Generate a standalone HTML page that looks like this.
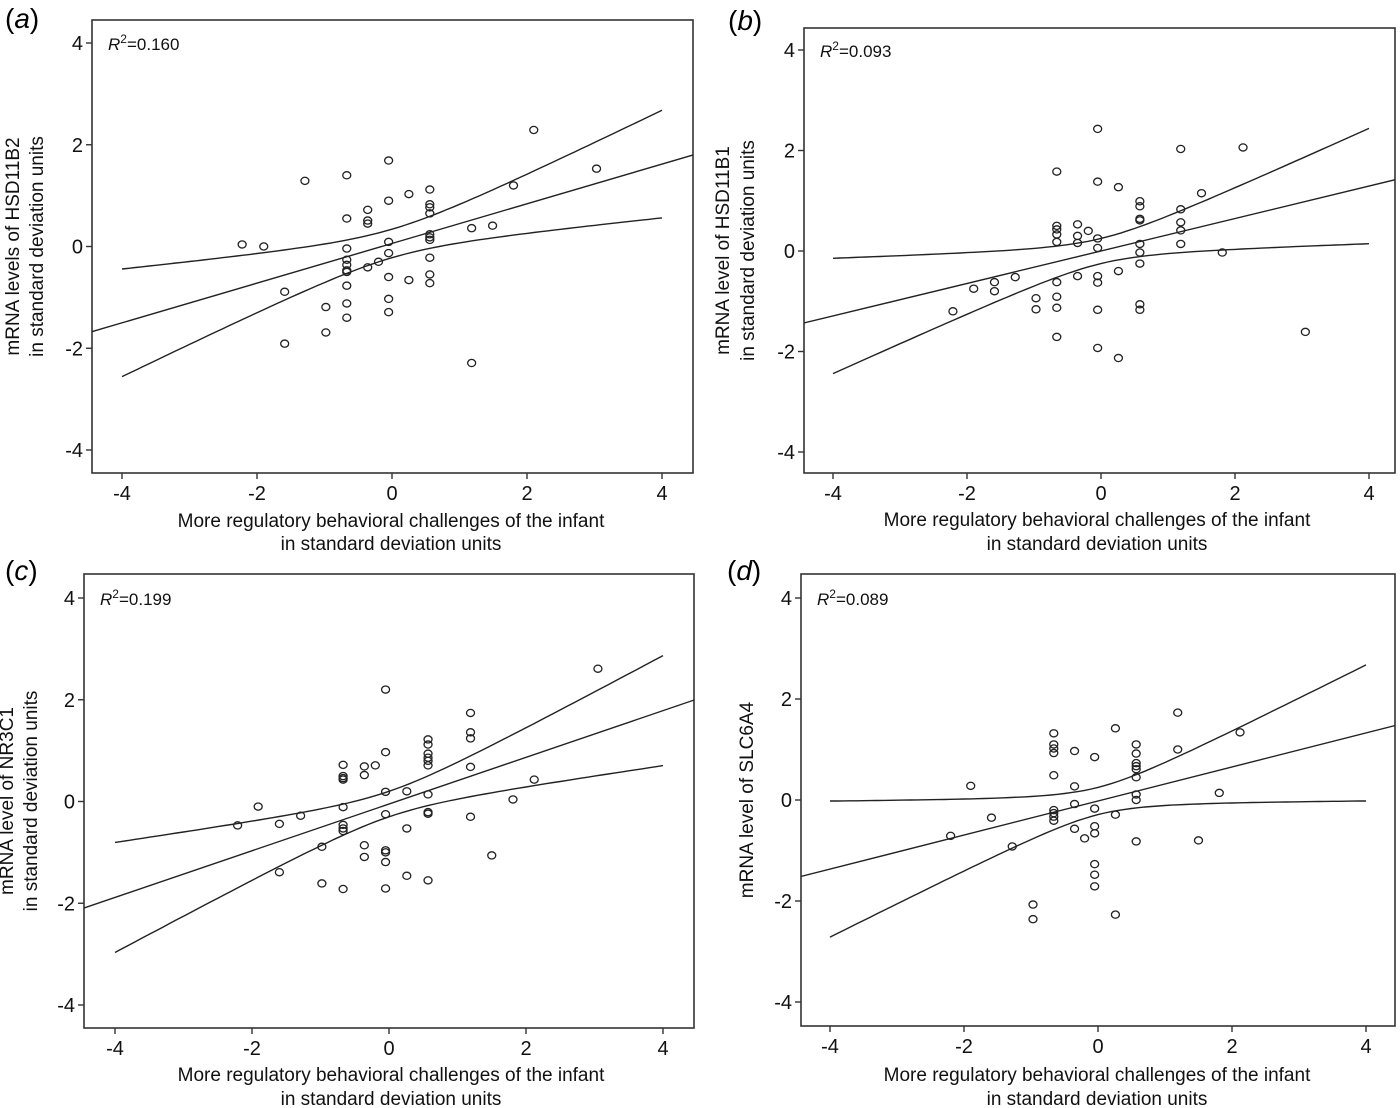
<!DOCTYPE html>
<html><head><meta charset="utf-8"><style>
html,body{margin:0;padding:0;background:#fff;}
svg{display:block;font-family:"Liberation Sans",Arial,sans-serif;}
</style></head>
<body>
<svg id="fig" width="1400" height="1108" viewBox="0 0 1400 1108"></svg>
<script>
// ---- Panel data (x = behavioral challenges SD, y = mRNA SD) ----
const aX = [-2.22,-1.90,-1.29,-1.59,-1.59,-0.98,-0.98,-0.67,-0.67,-0.67,-0.67,-0.67,-0.67,-0.67,-0.67,-0.67,-0.67,-0.36,-0.36,-0.36,-0.36,-0.20,-0.05,-0.05,-0.05,-0.05,-0.05,-0.05,-0.05,0.25,0.25,0.56,0.56,0.56,0.56,0.56,0.56,0.56,0.56,0.56,0.56,1.18,1.49,1.18,1.80,2.10,3.03];
const aY = [0.04,0.00,1.29,-0.89,-1.91,-1.19,-1.69,1.40,0.55,-0.04,-0.26,-0.36,-0.47,-0.50,-0.77,-1.12,-1.40,0.72,0.51,0.45,-0.41,-0.30,1.69,0.90,0.09,-0.13,-0.60,-1.03,-1.29,1.03,-0.66,1.12,0.83,0.77,0.65,0.24,0.18,0.13,-0.22,-0.55,-0.72,0.36,0.41,-2.29,1.20,2.29,1.53];
const bX = [-2.21,-1.90,-1.59,-1.59,-1.28,-0.97,-0.97,-0.66,-0.66,-0.66,-0.66,-0.66,-0.66,-0.66,-0.66,-0.66,-0.35,-0.35,-0.35,-0.35,-0.19,-0.05,-0.05,-0.05,-0.05,-0.05,-0.05,-0.05,-0.05,0.26,0.26,0.26,0.58,0.58,0.58,0.58,0.58,0.58,0.58,0.58,0.58,1.19,1.19,1.19,1.19,1.19,1.50,1.81,2.12,3.05];
const bY = [-1.20,-0.75,-0.62,-0.80,-0.52,-0.94,-1.16,1.58,0.50,0.43,0.33,0.18,-0.62,-0.91,-1.13,-1.71,0.53,0.30,0.16,-0.50,0.40,2.43,1.38,0.25,0.06,-0.50,-0.63,-1.17,-1.93,1.27,-0.40,-2.13,0.99,0.89,0.64,0.61,0.14,-0.03,-0.25,-1.06,-1.17,2.03,0.83,0.57,0.41,0.14,1.15,-0.03,2.06,-1.61];
const cX = [-2.21,-1.91,-1.60,-1.60,-1.29,-0.98,-0.98,-0.67,-0.67,-0.67,-0.67,-0.67,-0.67,-0.67,-0.67,-0.67,-0.36,-0.36,-0.36,-0.36,-0.20,-0.05,-0.05,-0.05,-0.05,-0.05,-0.05,-0.05,-0.05,0.26,0.26,0.26,0.57,0.57,0.57,0.57,0.57,0.57,0.57,0.57,0.57,0.57,1.19,1.19,1.19,1.19,1.19,1.50,1.81,2.12,3.05];
const cY = [-0.47,-0.10,-0.44,-1.39,-0.28,-0.89,-1.61,0.72,0.50,0.46,0.43,-0.11,-0.46,-0.53,-0.58,-1.72,0.69,0.52,-0.86,-1.09,0.71,2.20,0.97,0.19,-0.25,-0.96,-1.00,-1.19,-1.71,0.20,-0.53,-1.46,1.22,1.12,0.94,0.86,0.80,0.71,0.14,-0.21,-0.24,-1.55,1.74,1.36,1.24,0.68,-0.30,-1.06,0.04,0.43,2.61];
const dX = [-2.20,-1.90,-1.59,-1.28,-0.97,-0.97,-0.66,-0.66,-0.66,-0.66,-0.66,-0.66,-0.66,-0.66,-0.66,-0.35,-0.35,-0.35,-0.35,-0.20,-0.05,-0.05,-0.05,-0.05,-0.05,-0.05,-0.05,0.26,0.26,0.26,0.57,0.57,0.57,0.57,0.57,0.57,0.57,0.57,0.57,1.19,1.19,1.50,1.81,2.12];
const dY = [-0.71,0.28,-0.35,-0.92,-2.07,-2.36,1.32,1.10,1.02,0.93,0.49,-0.20,-0.26,-0.33,-0.41,0.97,0.27,-0.08,-0.57,-0.76,0.85,-0.17,-0.52,-0.66,-1.27,-1.48,-1.71,1.42,-0.29,-2.27,1.10,0.92,0.73,0.67,0.61,0.45,0.11,0.00,-0.82,1.73,1.00,-0.80,0.14,1.34];
// fit: [intercept, slope], CI half width: [at centre, growth]
const aFit = [0.06, 0.39]; const aCI = [0.28, 0.255];
const bFit = [0.00, 0.323]; const bCI = [0.25, 0.28];
const cFit = [-0.05, 0.459]; const cCI = [0.25, 0.263];
const dFit = [-0.02, 0.337]; const dCI = [0.27, 0.33];
const xTicks = [-4,-2,0,2,4];
const yTicks = [4,2,0,-2,-4];
const r2Labels = ["0.160","0.093","0.199","0.089"];

const NS="http://www.w3.org/2000/svg";
const svg=document.getElementById('fig');
function mk(tag,attrs,parent){const e=document.createElementNS(NS,tag);for(const k in attrs)e.setAttribute(k,attrs[k]);(parent||svg).appendChild(e);return e;}

const panels=[
 {id:'a',X:aX,Y:aY,fit:aFit,ci:aCI,r2:r2Labels[0],fl:92,fr:693,ft:20,fb:473,xm4:122,xp4:662,y4:43,ym4:450,
  ylab:["mRNA levels of HSD11B2","in standard deviation units"],ylx:[19,43],lab:[5,28],xlc:391,xly:[527,550]},
 {id:'b',X:bX,Y:bY,fit:bFit,ci:bCI,r2:r2Labels[1],fl:804,fr:1395,ft:28,fb:473,xm4:833,xp4:1369,y4:50,ym4:452,
  ylab:["mRNA level of HSD11B1","in standard deviation units"],ylx:[729,754],lab:[728,30],xlc:1097,xly:[526,550]},
 {id:'c',X:cX,Y:cY,fit:cFit,ci:cCI,r2:r2Labels[2],fl:84,fr:694,ft:574,fb:1028,xm4:115,xp4:663,y4:598,ym4:1005,
  ylab:["mRNA level of NR3C1","in standard deviation units"],ylx:[13,37],lab:[5,580],xlc:391,xly:[1081,1105]},
 {id:'d',X:dX,Y:dY,fit:dFit,ci:dCI,r2:r2Labels[3],fl:801,fr:1395,ft:574,fb:1026,xm4:830,xp4:1366,y4:598,ym4:1002,
  ylab:["mRNA level of SLC6A4"],ylx:[753],lab:[727,580],xlc:1097,xly:[1081,1105]}
];

panels.forEach(p=>{
 const g=mk('g',{});
 
 
 const sx=v=>p.xm4+(v+4)*(p.xp4-p.xm4)/8;
 const sy=v=>p.y4+(4-v)*(p.ym4-p.y4)/8;
 const clip=mk('clipPath',{id:'clip'+p.id},g);
 mk('rect',{x:p.fl,y:p.ft,width:p.fr-p.fl,height:p.fb-p.ft},clip);
 const frame=mk('rect',{x:p.fl,y:p.ft,width:p.fr-p.fl,height:p.fb-p.ft,fill:'none',stroke:'#333','stroke-width':1.6},g);
 
 
 const lab=mk('text',{x:p.lab[0],y:p.lab[1],'font-size':28},g);
 
 
 lab.innerHTML='(<tspan font-style="italic">'+p.id+'</tspan>)';
 xTicks.forEach(t=>{
  const x=sx(t);
  mk('line',{x1:x,y1:p.fb,x2:x,y2:p.fb+6,stroke:'#333','stroke-width':1.4},g);
  const tl=mk('text',{x:x,y:p.fb+27,'font-size':20,'text-anchor':'middle',fill:'#111'},g);
  
  
  tl.textContent=t;
 });
 yTicks.forEach(t=>{
  const y=sy(t);
  mk('line',{x1:p.fl-6,y1:y,x2:p.fl,y2:y,stroke:'#333','stroke-width':1.4},g);
  const tl=mk('text',{x:p.fl-9,y:y+7,'font-size':20,'text-anchor':'end',fill:'#111'},g);
  
  
  tl.textContent=t;
 });
 const r2=mk('text',{x:p.fl+16,y:p.y4+7,'font-size':17,fill:'#111'},g);
 
 
 r2.innerHTML='<tspan font-style="italic">R</tspan><tspan font-size="12" dy="-7">2</tspan><tspan dy="7">='+p.r2+'</tspan>';
 const x0=-4.6,x1=4.6;
 const fl=mk('line',{x1:sx(x0),y1:sy(p.fit[0]+p.fit[1]*x0),x2:sx(x1),y2:sy(p.fit[0]+p.fit[1]*x1),stroke:'#222','stroke-width':1.4,'clip-path':'url(#clip'+p.id+')'},g);
 
 
 [1,-1].forEach(s=>{
  let d='';
  for(let i=0;i<=80;i++){const x=-4+i*0.1;const hw=Math.sqrt(p.ci[0]*p.ci[0]+p.ci[1]*p.ci[1]*x*x);
   const y=p.fit[0]+p.fit[1]*x+s*hw;d+=(i?'L':'M')+sx(x).toFixed(1)+','+sy(y).toFixed(1);}
  const c=mk('path',{d:d,fill:'none',stroke:'#222','stroke-width':1.4},g);
  
  
 });
 p.X.forEach((xv,i)=>{
  const c=mk('ellipse',{cx:sx(xv),cy:sy(p.Y[i]),rx:4,ry:3.6,fill:'none',stroke:'#222','stroke-width':1.3},g);
  
  
 });
 const cy=(p.ft+p.fb)/2;
 p.ylab.forEach((t,i)=>{
  const yl=mk('text',{x:p.ylx[i],y:cy,'font-size':19,'text-anchor':'middle',fill:'#111',transform:'rotate(-90 '+p.ylx[i]+' '+cy+')'},g);
  
  
  yl.textContent=t;
 });
 ["More regulatory behavioral challenges of the infant","in standard deviation units"].forEach((t,i)=>{
  const xl=mk('text',{x:p.xlc,y:p.xly[i],'font-size':19,'text-anchor':'middle',fill:'#111'},g);
  
  
  xl.textContent=t;
 });
});
</script>
</body></html>
